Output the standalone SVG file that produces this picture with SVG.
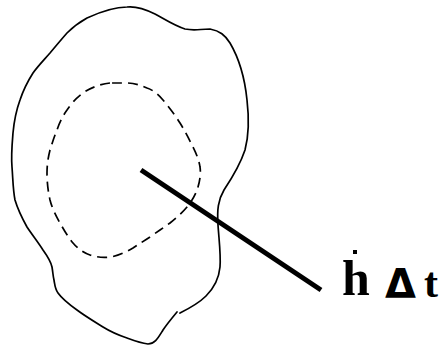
<svg xmlns="http://www.w3.org/2000/svg" width="439" height="345" viewBox="0 0 439 345">
<style>
.outline{fill:none;stroke:#000;stroke-width:1.7;stroke-linejoin:round;stroke-linecap:round}
.dash{fill:none;stroke:#000;stroke-width:1.7;stroke-dasharray:10 6}
.bar{stroke:#000;stroke-width:5;stroke-linecap:butt}
.lbl{font-family:"Liberation Serif",serif;font-weight:bold;fill:#000}
.tri{font-family:"DejaVu Sans",sans-serif;font-weight:bold;font-size:40px;fill:#000}
</style>
<rect width="439" height="345" fill="#fff"/>
<g id="region">
<path class="outline" d="M180,313 C190,308 200,302 206,296 C214,288 219,278 220,267 C221,255 219,240 218,225 C217,210 218,200 224,190 C232,178 240,165 245,150 C249,135 249,117 247,100 C245,80 240,60 230,43 C225,35 220,31 210,29 C200,29 195,31 185,29 C175,26 166,20 155,14 C145,9 136,6 127,7 C115,7 100,12 87,18 C78,23 72,28 67,33 C60,41 55,47 50,53 C43,61 38,66 33,73 C26,84 23,91 20,100 C16,111 14,122 13,133 C12,145 11,156 12,167 C13,180 13,190 15,200 C18,210 22,218 27,227 C33,236 38,242 43,250 C48,257 51,262 52,267 C53,273 53,276 54,280 C55,286 55,289 58,293 C63,300 70,305 77,310 C85,316 95,322 103,327 C111,332 118,335 127,338 C135,341 140,343 148,344 C155,344 158,338 163,330 C167,324 172,318 177,312"/>
</g>
<g id="control-volume">
<path class="dash" d="M110,83 C100,84 90,88 83,93 C76,98 71,104 67,110 C62,117 59,124 57,130 C54,137 52,144 50,150 C48,158 47,165 47,173 C47,182 48,191 50,200 C52,208 56,216 60,223 C64,230 68,237 73,243 C78,249 84,253 90,255 C96,257 103,258 110,257 C118,256 126,252 133,248 C139,244 144,241 150,237 C157,232 163,228 170,223 C176,218 182,213 187,207 C192,201 196,194 198,187 C200,180 201,173 200,167 C199,160 196,153 193,147 C189,139 185,131 180,123 C175,115 169,107 163,100 C158,94 153,90 147,88 C140,85 134,83 127,83 C121,83 116,83 110,83 Z"/>
</g>
<g id="connectors">
<line class="bar" x1="141" y1="170" x2="321" y2="290"/>
</g>
<g id="label">
<text class="lbl" x="342" y="295" font-size="50">h</text>
<rect x="353" y="250" width="4" height="4" fill="#000"/>
<text class="tri" x="385" y="298">Δ</text>
<text class="lbl" x="424" y="297" font-size="42">t</text>
</g>
</svg>
